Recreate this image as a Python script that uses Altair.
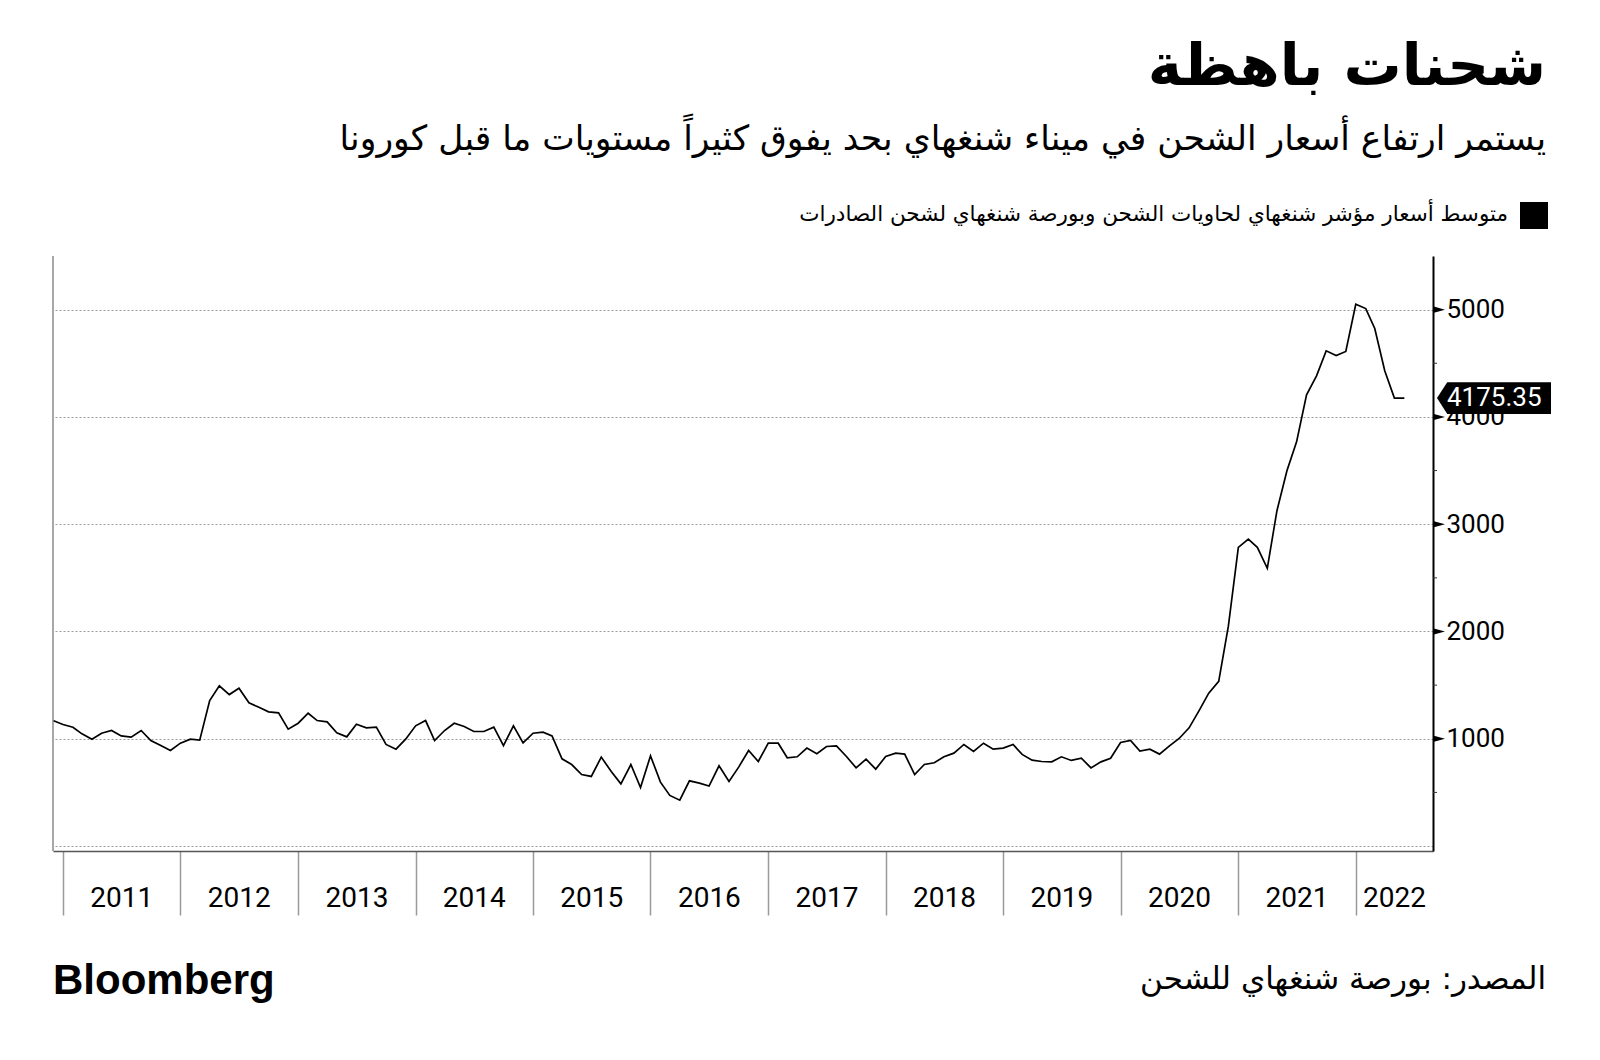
import altair as alt
import pandas as pd

# ---------------- data (monthly average) ----------------
start_month = "2010-12-01"
values_2010 = [1170]
values_2011 = [1133, 1108, 1046, 996, 1052, 1077, 1027, 1015, 1077, 984, 937, 891]
values_2012 = [959, 996, 987, 1356, 1493, 1412, 1471, 1335, 1294, 1251, 1242, 1090]
values_2013 = [1145, 1238, 1170, 1158, 1055, 1018, 1136, 1102, 1108, 947, 903, 996]
values_2014 = [1121, 1170, 984, 1077, 1145, 1114, 1068, 1068, 1108, 937, 1121, 962]
values_2015 = [1052, 1062, 1027, 813, 760, 667, 649, 829, 695, 580, 760, 546]
values_2016 = [841, 596, 472, 428, 608, 587, 559, 748, 602, 736, 891, 788]
values_2017 = [959, 959, 823, 832, 913, 860, 928, 934, 835, 729, 810, 717]
values_2018 = [835, 866, 857, 667, 760, 776, 832, 866, 947, 882, 959, 903]
values_2019 = [913, 947, 854, 801, 788, 785, 832, 798, 819, 729, 785, 819]
values_2020 = [965, 984, 885, 903, 857, 934, 1003, 1102, 1263, 1425, 1536, 2050]
values_2021 = [2784, 2862, 2784, 2589, 3126, 3498, 3768, 4206, 4383, 4616, 4573, 4610]
values_2022 = [5050, 5010, 4824, 4430, 4176, 4175.35]

last_value = 4175.35
year_labels = ["2011", "2012", "2013", "2014", "2015", "2016",
               "2017", "2018", "2019", "2020", "2021", "2022"]
y_major = [1000, 2000, 3000, 4000, 5000]
y_grid = [0, 1000, 2000, 3000, 4000, 5000]
y_minor = [500, 1500, 2500, 3500, 4500]

title_text = "شحنات باهظة"
subtitle_text = "يستمر ارتفاع أسعار الشحن في ميناء شنغهاي بحد يفوق كثيراً مستويات ما قبل كورونا"
legend_text = "متوسط أسعار مؤشر شنغهاي لحاويات الشحن وبورصة شنغهاي لشحن الصادرات"
source_text = "المصدر: بورصة شنغهاي للشحن"
brand_text = "Bloomberg"

# ---------------- tables ----------------
all_values = (values_2010 + values_2011 + values_2012 + values_2013 + values_2014 +
              values_2015 + values_2016 + values_2017 + values_2018 + values_2019 +
              values_2020 + values_2021 + values_2022)
dates = pd.date_range(start_month, periods=len(all_values), freq="MS")
line_df = pd.DataFrame({"date": dates, "value": all_values})

domain_end = pd.Timestamp("2022-08-29")

label_dates = []
for y in year_labels:
    a = pd.Timestamp(f"{y}-01-01")
    b = min(pd.Timestamp(f"{int(y)+1}-01-01"), domain_end)
    label_dates.append(a + (b - a) / 2)
years_df = pd.DataFrame({"date": label_dates, "label": year_labels})

last_df = pd.DataFrame({"date": [dates[-1]], "value": [last_value],
                        "label": [f"{last_value:.2f}"]})

W, H = 1380, 595
FONT_NUM = "Roboto"
FONT_AR = "DejaVu Sans"

xscale = alt.Scale(domain=[alt.DateTime(year=2010, month=12, date=1),
                           alt.DateTime(year=2022, month=8, date=29)])
yscale = alt.Scale(domain=[-46, 5500], nice=False, zero=False)

x_axis = alt.Axis(
    values=[alt.DateTime(year=int(y), month=1, date=1) for y in year_labels],
    labels=False, tickSize=64, tickColor="#9a9a9a", tickWidth=1.5,
    domainColor="#555555", domainWidth=1.5, grid=False, title=None,
)
y_axis = alt.Axis(
    orient="right", values=y_grid, format="d",
    labelExpr="datum.value == 0 ? '' : datum.label",
    tickSize=0, labelPadding=13, labelFont=FONT_NUM, labelFontSize=26,
    labelColor="black", domainColor="black", domainWidth=2,
    grid=True, gridDash=[2, 2], gridColor="#9a9a9a", gridWidth=1, title=None,
)

line = alt.Chart(line_df).mark_line(color="black", strokeWidth=1.7).encode(
    x=alt.X("date:T", scale=xscale, axis=x_axis),
    y=alt.Y("value:Q", scale=yscale, axis=y_axis),
)

left_rule = alt.Chart(pd.DataFrame({"a": [0]})).mark_rule(
    color="#8a8a8a", strokeWidth=1.5).encode(
    x=alt.value(0), y=alt.value(0), y2=alt.value(H))

minor = alt.Chart(pd.DataFrame({"v": y_minor})).mark_rule(
    color="#333333", strokeWidth=1).encode(
    y=alt.Y("v:Q", scale=yscale), x=alt.value(W), x2=alt.value(W + 4))

tri_path = "M -1 -0.55 L 1 0 L -1 0.55 Z"
major = alt.Chart(pd.DataFrame({"v": y_major})).mark_point(
    shape=tri_path, filled=True, color="black", size=144, opacity=1).encode(
    y=alt.Y("v:Q", scale=yscale), x=alt.value(W + 6))

box_path = "M -1 0 L -0.82 -0.28 L 1 -0.28 L 1 0.28 L -0.82 0.28 Z"
last_box = alt.Chart(last_df).mark_point(
    shape=box_path, filled=True, color="black", size=114 * 114, opacity=1).encode(
    y=alt.Y("value:Q", scale=yscale), x=alt.value(W + 61))
last_text = alt.Chart(last_df).mark_text(
    color="white", font=FONT_NUM, fontSize=26, align="left", baseline="middle").encode(
    y=alt.Y("value:Q", scale=yscale), x=alt.value(W + 14), text="label:N")

year_text = alt.Chart(years_df).mark_text(
    color="black", font=FONT_NUM, fontSize=28, align="center", baseline="middle").encode(
    x=alt.X("date:T", scale=xscale), y=alt.value(H + 48), text="label:N")

def text_layer(txt, x, y, size, align, font, weight="normal", baseline="middle"):
    return alt.Chart(pd.DataFrame({"t": [txt]})).mark_text(
        color="black", font=font, fontSize=size, fontWeight=weight,
        align=align, baseline=baseline).encode(
        x=alt.value(x), y=alt.value(y), text="t:N")

title = text_layer(title_text, 1493, -188, 58, "right", FONT_AR, "bold")
subtitle = text_layer(subtitle_text, 1493, -116, 34.5, "right", FONT_AR)
legend_t = text_layer(legend_text, 1455, -41, 21.5, "right", FONT_AR)
source = text_layer(source_text, 1493, 724, 31, "right", FONT_AR)
brand = text_layer(brand_text, 0, 738, 42, "left", "Liberation Sans", "bold", "alphabetic")

legend_sq = alt.Chart(pd.DataFrame({"a": [0]})).mark_rect(color="black").encode(
    x=alt.value(1467), x2=alt.value(1495), y=alt.value(-54), y2=alt.value(-27))

chart = alt.layer(
    line, left_rule, minor, major, last_box, last_text, year_text,
    title, subtitle, legend_t, legend_sq, source, brand,
).properties(
    width=W, height=H,
    autosize=alt.AutoSizeParams(type="none"),
    padding={"left": 45, "top": 248, "right": 150, "bottom": 190},
    background="white",
).configure_view(stroke=None)

chart.save("out.html", embed_options={"renderer": "svg", "actions": False})
